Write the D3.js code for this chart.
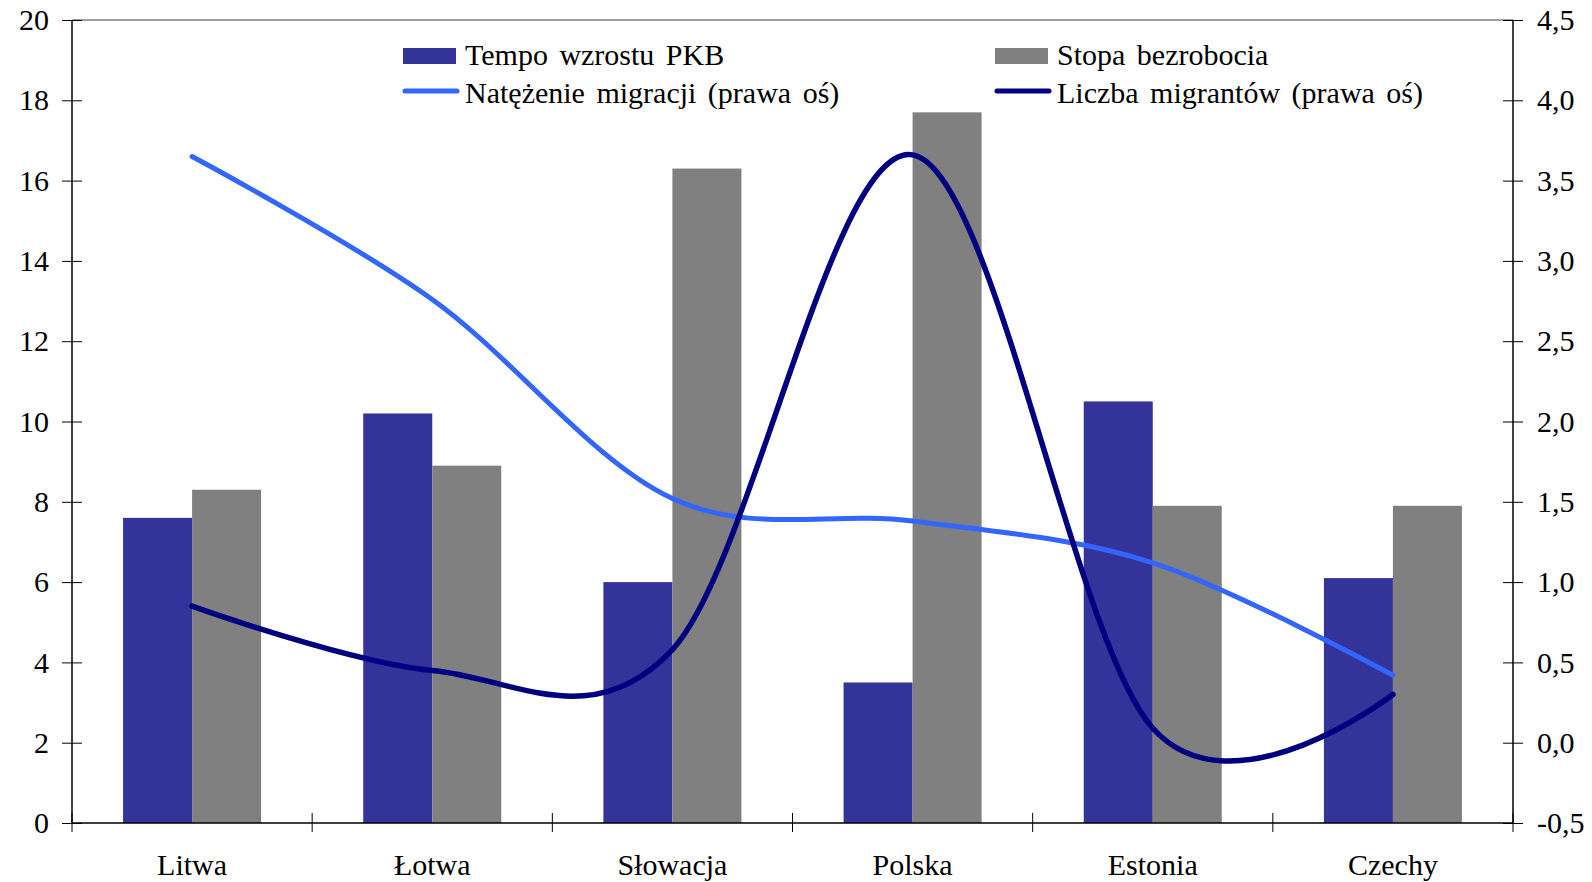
<!DOCTYPE html>
<html>
<head>
<meta charset="utf-8">
<script src="https://cdn.jsdelivr.net/npm/d3@7"></script>
<style>
  body { margin: 0; background: #fff; }
  text { font-family: 'Liberation Serif', 'Times New Roman', serif; fill: #000; }
</style>
</head>
<body>
<svg id="chart" width="1592" height="882"></svg>
<script>
// data
var categories = ['Litwa', 'Łotwa', 'Słowacja', 'Polska', 'Estonia', 'Czechy']
var pkb = [7.6, 10.2, 6.0, 3.5, 10.5, 6.1]
var bezrobocie = [8.3, 8.9, 16.3, 17.7, 7.9, 7.9]
var natezenie = [3.65, 2.76, 1.52, 1.38, 1.12, 0.42]
var liczba = [0.85, 0.45, 0.58, 3.66, 0.09, 0.30]
var leftTicks = [0, 2, 4, 6, 8, 10, 12, 14, 16, 18, 20]
var rightTicks = [-0.5, 0, 0.5, 1, 1.5, 2, 2.5, 3, 3.5, 4, 4.5]

;(function () {
  var svg = d3.select('#chart')

  // plot area
  var pl = 72, pr = 1513, pt = 20, pb = 823

  var x = d3.scaleBand().domain(categories).range([pl, pr])
  var xs = d3.scaleBand().domain(['pkb', 'bezr'])
      .range([0, x.bandwidth()]).paddingInner(0).paddingOuter(0.74)
  var yL = d3.scaleLinear().domain([0, 20]).range([pb, pt])
  var yR = d3.scaleLinear().domain([-0.5, 4.5]).range([pb, pt])

  var colors = {pkb: '#333399', bezr: '#808080', nat: '#3366ff', licz: '#000080'}
  var font = "'Liberation Serif', 'Times New Roman', serif"

  // top border
  svg.append('line')
      .attr('x1', pl).attr('x2', pr).attr('y1', pt).attr('y2', pt)
      .attr('stroke', '#808080').attr('stroke-width', 1.5)

  /*
      bars
  */
  var groups = svg.append('g').selectAll('g')
      .data(categories)
      .enter().append('g')
      .attr('transform', d => `translate(${x(d)},0)`)

  groups.append('rect')
      .attr('x', xs('pkb'))
      .attr('width', xs.bandwidth())
      .attr('y', (d, i) => yL(pkb[i]))
      .attr('height', (d, i) => yL(0) - yL(pkb[i]))
      .attr('fill', colors.pkb)

  groups.append('rect')
      .attr('x', xs('bezr'))
      .attr('width', xs.bandwidth())
      .attr('y', (d, i) => yL(bezrobocie[i]))
      .attr('height', (d, i) => yL(0) - yL(bezrobocie[i]))
      .attr('fill', colors.bezr)

  /*
      axes
  */
  var fmtR = v => d3.format('.1f')(v).replace('.', ',').replace('−', '-')

  var axL = svg.append('g')
      .attr('transform', `translate(${pl},0)`)
      .call(d3.axisLeft(yL).tickValues(leftTicks).tickSize(10).tickPadding(13))
  var axR = svg.append('g')
      .attr('transform', `translate(${pr},0)`)
      .call(d3.axisRight(yR).tickValues(rightTicks).tickSize(10).tickPadding(14).tickFormat(fmtR))
  var axB = svg.append('g')
      .attr('transform', `translate(0,${pb})`)
      .call(d3.axisBottom(x).tickSize(0))

  axL.selectAll('.tick line').attr('x1', 10)
  axR.selectAll('.tick line').attr('x1', -10)

  // boundaries between categories on the bottom axis
  axB.selectAll('.bound')
      .data(d3.range(categories.length + 1))
      .enter().append('line')
      .attr('x1', i => pl + i * x.step())
      .attr('x2', i => pl + i * x.step())
      .attr('y1', -10).attr('y2', 9)
      .attr('stroke', '#000')

  ;[axL, axR, axB].forEach(function (a) {
    a.select('.domain').attr('stroke', '#000').attr('stroke-width', 1.5)
    a.selectAll('.tick line').attr('stroke', '#000')
    a.selectAll('text').style('font-size', '30px').attr('fill', '#000')
        .style('font-family', font)
  })
  axB.selectAll('.tick text').attr('dy', 0).attr('y', 52)
  axL.select('.domain').attr('d', `M0,${pt}V${pb}`)
  axR.select('.domain').attr('d', `M0,${pt}V${pb}`)
  axB.select('.domain').attr('d', `M${pl},0H${pr}`)

  /*
      lines (right axis)
  */
  var line = d3.line()
      .x((d, i) => x(categories[i]) + x.bandwidth() / 2)
      .y(d => yR(d))
      .curve(d3.curveCatmullRom.alpha(0))

  svg.append('path')
      .attr('d', line(natezenie))
      .attr('fill', 'none').attr('stroke', colors.nat)
      .attr('stroke-width', 5).attr('stroke-linecap', 'round')

  svg.append('path')
      .attr('d', line(liczba))
      .attr('fill', 'none').attr('stroke', colors.licz)
      .attr('stroke-width', 5.5).attr('stroke-linecap', 'round')

  /*
      legend
  */
  var legend = [
    {name: 'Tempo wzrostu PKB', type: 'rect', color: colors.pkb, x: 403, y: 56, ty: 9},
    {name: 'Stopa bezrobocia', type: 'rect', color: colors.bezr, x: 995, y: 56, ty: 9},
    {name: 'Natężenie migracji (prawa oś)', type: 'line', color: colors.nat, x: 403, y: 91, ty: 12},
    {name: 'Liczba migrantów (prawa oś)', type: 'line', color: colors.licz, x: 995, y: 91, ty: 12}
  ]

  var lg = svg.append('g').selectAll('g')
      .data(legend)
      .enter().append('g')
      .attr('transform', d => `translate(${d.x},${d.y})`)

  lg.filter(d => d.type === 'rect').append('rect')
      .attr('x', 0).attr('y', -8).attr('width', 53).attr('height', 16)
      .attr('fill', d => d.color)

  lg.filter(d => d.type === 'line').append('line')
      .attr('x1', 2).attr('x2', 54).attr('y1', 0).attr('y2', 0)
      .attr('stroke', d => d.color).attr('stroke-width', 5)
      .attr('stroke-linecap', 'round')

  lg.append('text')
      .attr('x', 62).attr('y', d => d.ty)
      .style('font-size', '30px')
      .style('word-spacing', '4px')
      .text(d => d.name)
})()
</script>
</body>
</html>
